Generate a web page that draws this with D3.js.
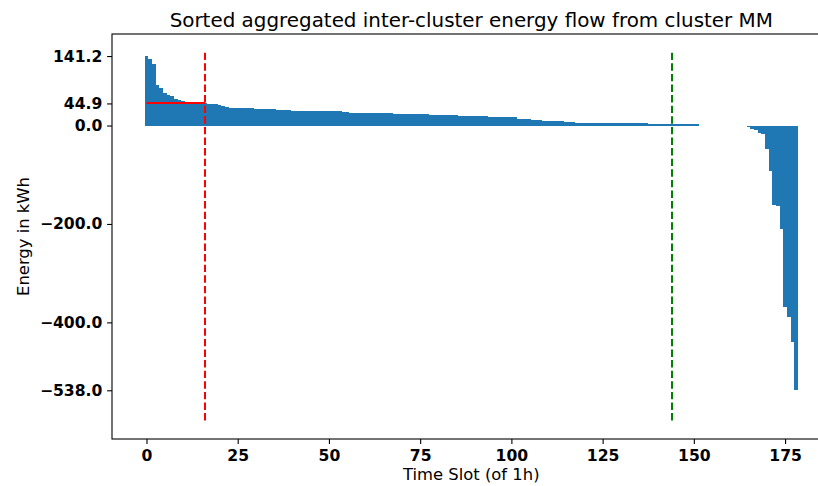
<!DOCTYPE html>
<html>
<head>
<meta charset="utf-8">
<script src="https://cdn.jsdelivr.net/npm/d3@7"></script>
<style>
  body { margin: 0; background: #fff; }
  svg { display: block; font-family: "DejaVu Sans", sans-serif; }
</style>
</head>
<body>
<svg></svg>
<script>
var WIDTH = 818;
var HEIGHT = 486;

// sorted energy per time slot (kWh)
var energy = [
  141.2, 135.0, 124.5, 82.0, 76.5, 66.0, 61.5, 60.5, 53.5, 52.5,
  49.5, 48.2, 47.8, 46.8, 46.5, 46.2, 44.9, 44.0, 43.4, 43.0,
  40.8, 40.4, 38.0, 36.4, 36.2, 36.1, 36.0, 35.9, 35.8, 35.6,
  34.3, 34.2, 34.0, 33.9, 33.8, 32.6, 32.5, 32.3, 30.8, 30.7,
  30.5, 30.4, 30.2, 29.3, 29.2, 29.2, 29.1, 29.0, 29.0, 28.9,
  28.9, 28.8, 28.7, 28.6, 27.2, 27.0, 25.9, 25.8, 25.8, 25.7,
  25.7, 25.6, 25.6, 25.5, 24.6, 24.6, 24.5, 24.5, 24.4, 24.4,
  24.4, 24.3, 24.3, 24.2, 24.2, 24.1, 24.1, 22.5, 22.4, 22.4,
  22.3, 22.2, 22.2, 20.5, 20.4, 20.4, 20.3, 20.3, 20.2, 20.2,
  20.1, 18.5, 18.4, 18.4, 18.3, 18.2, 18.2, 18.1, 17.1, 17.0,
  16.9, 16.8, 13.7, 13.6, 13.4, 13.3, 10.9, 10.8, 10.7, 8.9,
  8.9, 8.8, 8.8, 8.7, 8.7, 7.5, 7.4, 7.3, 5.5, 5.5,
  5.4, 5.4, 5.3, 4.8, 4.8, 4.8, 4.8, 4.7, 4.7, 4.7,
  4.7, 4.7, 4.7, 4.6, 4.6, 4.6, 4.6, 4.6, 3.4, 3.4,
  3.4, 3.3, 3.3, 3.3, 3.2, 3.2, 3.2, 3.1, 3.1, 3.1,
  3.0, 3.0, 0, 0, 0, 0, 0, 0, 0, 0,
  0, 0, 0, 0, -1.0, -3.5, -7.5, -8.5, -15.5, -16.5,
  -46.7, -91.4, -162.0, -164.0, -211.0, -369.0, -389.0, -440.0, -538.0
];

var xTicks = [0, 25, 50, 75, 100, 125, 150, 175];
var yTicks = [141.2, 44.9, 0, -200, -400, -538];

// marker lines
var redSlot = 16;
var greenSlot = 144;
var redLevel = 44.9;
var vlineRange = [-602, 148];

var svg = d3.select('svg')
    .attr('width', WIDTH)
    .attr('height', HEIGHT);

var plotLeft = 112, plotTop = 34, plotBottom = 439, plotRight = 830.5;

var xScale = d3.scaleLinear()
    .domain([-9.45, 187.45])
    .range([plotLeft, plotRight]);
var yScale = d3.scaleLinear()
    .domain([-637, 186])
    .range([plotBottom, plotTop]);

svg.append('g').selectAll('rect')
    .data(energy)
    .enter()
    .append('rect')
    .attr('x', function(d, i){ return xScale(i - 0.5); })
    .attr('width', function(d, i){ return xScale(i + 0.5) - xScale(i - 0.5); })
    .attr('y', function(d){ return yScale(Math.max(d, 0)); })
    .attr('height', function(d){ return Math.abs(yScale(d) - yScale(0)); })
    .attr('fill', '#1f77b4')
    .attr('shape-rendering', 'crispEdges');

// mean level line, snapped to whole pixels so it stays bright red
var redY = Math.round(yScale(redLevel));
svg.append('line')
    .attr('x1', xScale(0)).attr('x2', xScale(redSlot))
    .attr('y1', redY).attr('y2', redY)
    .attr('stroke', 'red').attr('stroke-width', 2);

svg.append('line')
    .attr('x1', Math.round(xScale(redSlot))).attr('x2', Math.round(xScale(redSlot)))
    .attr('y1', yScale(vlineRange[1])).attr('y2', yScale(vlineRange[0]))
    .attr('stroke', 'red').attr('stroke-width', 2)
    .attr('stroke-dasharray', '7.4,3.2');

svg.append('line')
    .attr('x1', Math.round(xScale(greenSlot))).attr('x2', Math.round(xScale(greenSlot)))
    .attr('y1', yScale(vlineRange[1])).attr('y2', yScale(vlineRange[0]))
    .attr('stroke', 'green').attr('stroke-width', 2)
    .attr('stroke-dasharray', '7.4,3.2');

// frame
svg.append('rect')
    .attr('x', plotLeft).attr('y', plotTop)
    .attr('width', plotRight - plotLeft).attr('height', plotBottom - plotTop)
    .attr('fill', 'none').attr('stroke', '#000').attr('stroke-width', 1.1);

var bottomAxis = d3.axisBottom(xScale)
    .tickValues(xTicks)
    .tickSize(4.9)
    .tickPadding(6.5)
    .tickFormat(d3.format('d'));
svg.append('g')
    .attr('transform', 'translate(0,' + plotBottom + ')')
    .call(bottomAxis)
    .call(function(g){ g.select('.domain').remove(); });

var leftAxis = d3.axisLeft(yScale)
    .tickValues(yTicks)
    .tickSize(4.9)
    .tickPadding(4.8)
    .tickFormat(d3.format('.1f'));
svg.append('g')
    .attr('transform', 'translate(' + plotLeft + ',0)')
    .call(leftAxis)
    .call(function(g){ g.select('.domain').remove(); });

svg.selectAll('.tick line')
    .attr('stroke', '#000')
    .attr('stroke-width', 1.1);
svg.selectAll('.tick text')
    .attr('fill', '#000')
    .style('font-family', '"DejaVu Sans", sans-serif')
    .style('font-weight', 'bold')
    .style('font-size', '15.6px');

svg.append('text')
    .attr('x', (plotLeft + plotRight) / 2).attr('y', 27)
    .attr('text-anchor', 'middle')
    .style('font-size', '19.9px')
    .text('Sorted aggregated inter-cluster energy flow from cluster MM');

svg.append('text')
    .attr('x', (plotLeft + plotRight) / 2).attr('y', 480)
    .attr('text-anchor', 'middle')
    .style('font-size', '16.4px')
    .text('Time Slot (of 1h)');

svg.append('text')
    .attr('transform', 'translate(29,' + (plotTop + plotBottom) / 2 + ') rotate(-90)')
    .attr('text-anchor', 'middle')
    .style('font-size', '16.4px')
    .text('Energy in kWh');
</script>
</body>
</html>
